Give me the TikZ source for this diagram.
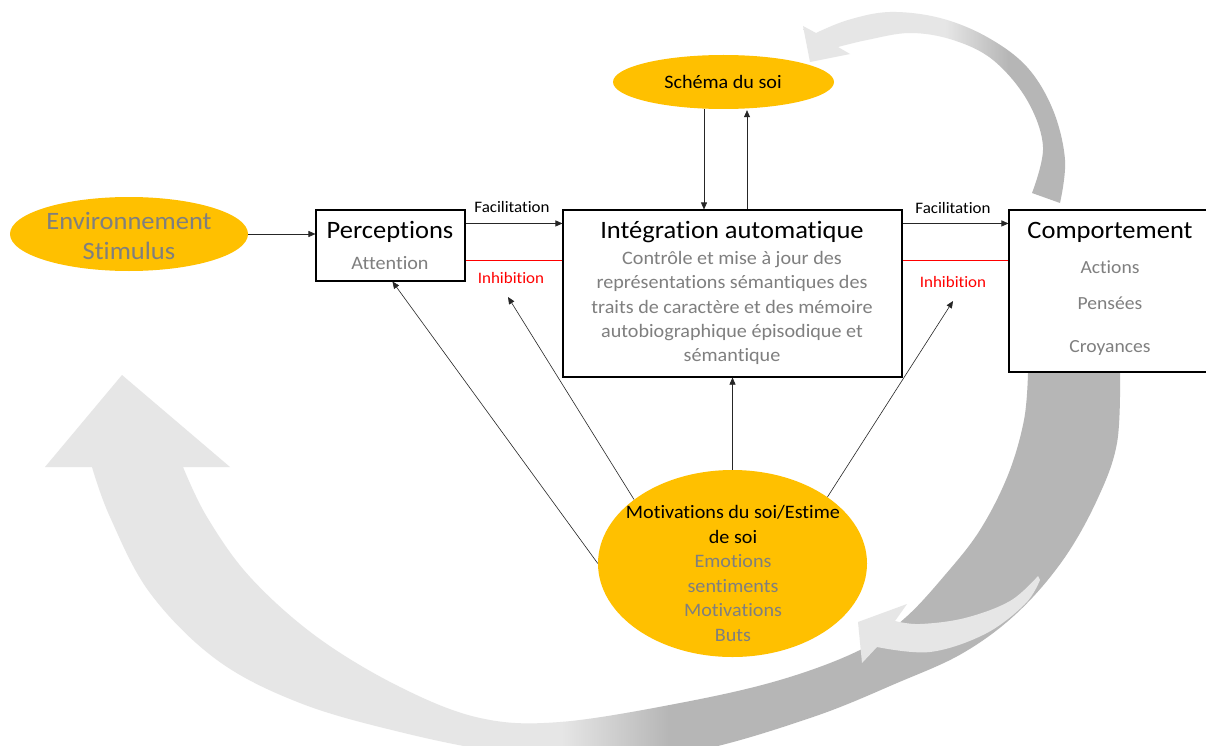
\documentclass[tikz,border=0pt]{standalone}
\usepackage{fontspec}
\setmainfont{Carlito}[FakeStretch=1.06, Ligatures=NoCommon]
\usetikzlibrary{arrows.meta,shapes.geometric,calc}
\definecolor{orng}{HTML}{FFC000}
\definecolor{txtgray}{HTML}{7F7F7F}
\definecolor{lg}{HTML}{E6E6E6}
\definecolor{dg}{HTML}{B6B6B6}
\pgfdeclarehorizontalshading{bigshade}{100bp}{color(0bp)=(lg); color(49bp)=(lg); color(54bp)=(dg); color(100bp)=(dg)}
\pgfdeclarehorizontalshading{topshade}{100bp}{color(0bp)=(lg); color(52bp)=(lg); color(64bp)=(dg); color(100bp)=(dg)}
\tikzset{
  ell/.style={ellipse, fill=orng, draw=none, inner sep=0pt},
  boxn/.style={rectangle, draw=black, line width=1.1pt, fill=white, inner sep=0pt},
  arr/.style={-{Triangle[length=7pt,width=6pt]}, line width=0.6pt, draw=black!85},
  redl/.style={draw=red, line width=0.6pt},
  title/.style={font=\fontsize{25}{30}\selectfont, text=black, inner sep=0pt},
  body/.style={font=\fontsize{19}{24.3}\selectfont, text=txtgray, align=center, inner sep=0pt},
  lab/.style={font=\fontsize{16}{19}\selectfont, inner sep=0pt}
}
\begin{document}
\begin{tikzpicture}[x=1pt,y=-1pt]
\clip (0,0) rectangle (1206,746);
\fill[white] (0,0) rectangle (1206,746);
% big curved arrow
\shade[shading=bigshade] (1120,373) -- plot[smooth,tension=0.6] coordinates {(1120,373) (1117,443) (1097,500) (1063,560) (1017,613) (963,653) (897,683) (813,717) (700,750) (600,760) (500,752) (400,732) (300,703) (217,660) (150,593) (110,517) (92,467)} -- (45,467) -- (122,375) -- (230,467) -- (183,467) -- plot[smooth,tension=0.6] coordinates {(183,467) (207,517) (250,577) (317,637) (400,687) (480,718) (560,722) (680,703) (780,680) (860,650) (905,618) (945,575) (980,530) (1008,475) (1024,420) (1028,373)} -- cycle;
% small light arrow
\fill[lg] (1038,576) -- plot[smooth,tension=0.6] coordinates {(1038,576) (1010,601) (965,618) (920,624) (895,621)} -- (907,604) -- (858,622) -- (862,663) -- (877,647) -- plot[smooth,tension=0.6] coordinates {(877,647) (930,652) (985,634) (1025,604) (1040,580)} -- cycle;
% upper arrow
\shade[shading=topshade] (1060,203) -- plot[smooth,tension=0.6] coordinates {(1060,203) (1065,160) (1053,110) (1027,67) (987,37) (940,18) (890,12) (848,20) (816,33)} -- (803,26) -- (810,62) -- (850,54) -- (838,47) -- plot[smooth,tension=0.6] coordinates {(838,47) (867,40) (910,33) (953,40) (993,60) (1027,100) (1043,147) (1032,193)} -- cycle;

% shapes
\node[ell, minimum width=238pt, minimum height=74pt] (env) at (129,234) {};
\node[ell, minimum width=221pt, minimum height=54pt] (schema) at (723.5,82) {};
\node[ell, minimum width=269pt, minimum height=187pt] (mot) at (732.5,563.5) {};
\node[boxn, minimum width=149pt, minimum height=71pt] (perc) at (390.5,245.5) {};
\node[boxn, minimum width=339pt, minimum height=167pt] (integ) at (732.5,293.5) {};
\node[boxn, minimum width=201pt, minimum height=162pt] (comp) at (1109.5,291) {};

% texts
\node[font=\fontsize{25}{30}\selectfont, text=txtgray, align=center, inner sep=0pt] (envtxt) at (129,236) {Environnement\\Stimulus};
\node[title] (perctitle) at (390,232) {Perceptions};
\node[body] (perctxt) at (390,263) {Attention};
\node[title] (integtitle) at (732,232) {Intégration automatique};
\node[body] (integtxt) at (732,308) {Contrôle et mise à jour des\\représentations sémantiques des\\traits de caractère et des mémoire\\autobiographique épisodique et\\sémantique};
\node[title] (comptitle) at (1110,232) {Comportement};
\node[body, font=\fontsize{18.5}{24}\selectfont] (act) at (1110,267) {Actions};
\node[body, font=\fontsize{18.5}{24}\selectfont] (pens) at (1110,303) {Pensées};
\node[body, font=\fontsize{18.5}{24}\selectfont] (croy) at (1110,348) {Croyances};
\node[font=\fontsize{19}{23}\selectfont, inner sep=0pt] (schematxt) at (723,82) {Schéma du soi};
\node[font=\fontsize{19}{24.6}\selectfont, align=center, inner sep=0pt] (mottxt) at (733,573.5) {Motivations du soi/Estime\\de soi\\\textcolor{txtgray}{Emotions}\\\textcolor{txtgray}{sentiments}\\\textcolor{txtgray}{Motivations}\\\textcolor{txtgray}{Buts}};
\node[lab] (facL) at (512,207) {Facilitation};
\node[lab, text=red] (inhL) at (511,278) {Inhibition};
\node[lab] (facR) at (953,208) {Facilitation};
\node[lab, text=red] (inhR) at (953,282) {Inhibition};

% coordinates
\coordinate (xd) at (704,0);
\coordinate (xu) at (747,0);
\coordinate (tipL) at (508,297);
\coordinate (tipR) at (953,301);
\coordinate (tipP) at ($(perc.south west)+(77,0)$);

% connectors
\draw[arr] (env.east) -- (env.east -| perc.west);
\draw[arr] ($(perc.north east)+(0,14)$) -- ($(integ.north west)+(0,14)$);
\draw[redl] ($(perc.north east)+(0,51)$) -- ($(integ.north west)+(0,51)$);
\draw[arr] ($(integ.north east)+(0,14)$) -- ($(comp.north west)+(0,14)$);
\draw[redl] ($(integ.north east)+(0,51)$) -- ($(comp.north west)+(0,51)$);
\draw[arr] (schema.south -| xd) -- (integ.north -| xd);
\draw[arr] (integ.north -| xu) -- ($(schema.south -| xu)+(0,1)$);
\draw[arr] (mot.west) -- (tipP);
\draw[arr] (mot.147) -- (tipL);
\draw[arr] (mot.north) -- (integ.south);
\draw[arr] (mot.35) -- (tipR);
\end{tikzpicture}
\end{document}
